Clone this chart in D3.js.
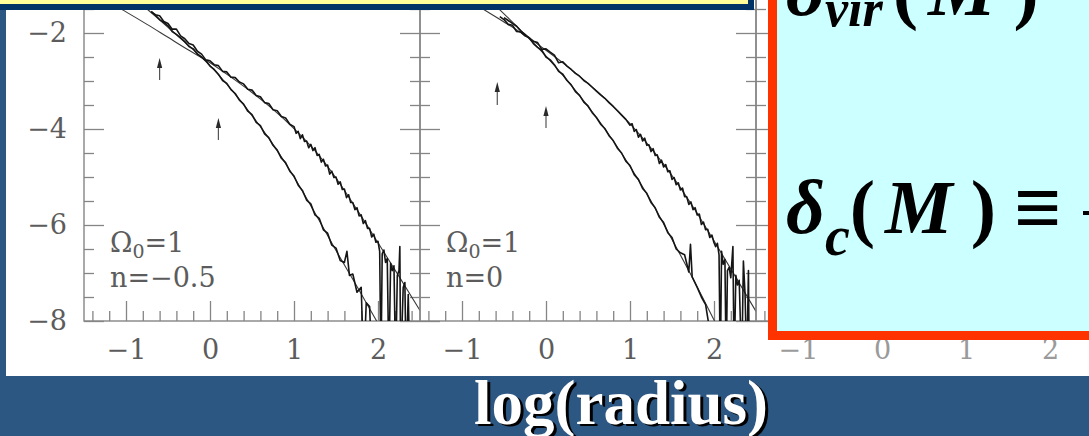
<!DOCTYPE html>
<html>
<head>
<meta charset="utf-8">
<script src="https://cdn.jsdelivr.net/npm/d3@7"></script>
<style>
  html, body { margin: 0; padding: 0; background: #2D5783; }
  svg { display: block; }
</style>
</head>
<body>
<svg id="slide" width="1089" height="436"></svg>
<script>
// ---------- axis ticks ----------
const xMajorTicks = [-1, 0, 1, 2];
const xMinorTicks = [-1.4, -1.2, -0.8, -0.6, -0.4, -0.2, 0.2, 0.4, 0.6, 0.8, 1.2, 1.4, 1.6, 1.8, 2.2, 2.4];
const yMajorTicks = [-8, -6, -4, -2];
const yMinorTicks = [-7.5, -7, -6.5, -5.5, -5, -4.5, -3.5, -3, -2.5, -1.5];

// ---------- Omega_0 = 1, n = -0.5 ----------
// smooth profile fits [log r, log rho]
const fitShallowN05 = [[-1.5,-1.05],[-1.25,-1.31],[-1.0,-1.56],[-0.75,-1.82],[-0.5,-2.09],[-0.25,-2.36],[0,-2.62],[0.25,-2.92],[0.5,-3.24],[0.75,-3.59],[1.0,-3.99],[1.25,-4.45],[1.5,-5.02],[1.75,-5.68],[2.0,-6.37],[2.25,-7.07],[2.5,-7.78]];
const fitSteepN05 = [[-1.0,-1.12],[-0.75,-1.50],[-0.5,-1.88],[-0.25,-2.27],[0,-2.68],[0.25,-3.17],[0.5,-3.72],[0.75,-4.32],[1.0,-5.00],[1.25,-5.75],[1.5,-6.53],[1.75,-7.28],[2.0,-8.05],[2.25,-8.8]];
// simulated halo profiles (empty bins fall below the axis)
const haloOuterN05 = [[-0.70,-1.56],[-0.65,-1.62],[-0.60,-1.64],[-0.55,-1.76],[-0.50,-1.80],[-0.45,-1.92],[-0.40,-1.92],[-0.35,-2.06],[-0.30,-2.12],[-0.25,-2.22],[-0.20,-2.25],[-0.15,-2.38],[-0.10,-2.44],[-0.05,-2.56],[0.00,-2.58],[0.05,-2.66],[0.10,-2.68],[0.15,-2.80],[0.20,-2.81],[0.25,-2.92],[0.30,-2.93],[0.35,-3.02],[0.40,-3.06],[0.45,-3.17],[0.50,-3.19],[0.55,-3.30],[0.60,-3.33],[0.65,-3.45],[0.70,-3.47],[0.75,-3.60],[0.80,-3.62],[0.85,-3.74],[0.90,-3.77],[0.95,-3.90],[1.000,-3.95],[1.025,-4.09],[1.050,-4.05],[1.075,-4.20],[1.100,-4.12],[1.125,-4.26],[1.150,-4.25],[1.175,-4.39],[1.200,-4.32],[1.225,-4.45],[1.250,-4.39],[1.275,-4.55],[1.300,-4.53],[1.325,-4.69],[1.350,-4.63],[1.375,-4.77],[1.400,-4.75],[1.425,-4.94],[1.450,-4.88],[1.475,-5.01],[1.500,-5.00],[1.525,-5.15],[1.550,-5.10],[1.575,-5.26],[1.600,-5.25],[1.625,-5.43],[1.650,-5.37],[1.675,-5.53],[1.700,-5.53],[1.725,-5.68],[1.750,-5.64],[1.775,-5.81],[1.800,-5.79],[1.825,-5.97],[1.850,-5.91],[1.875,-6.07],[1.900,-6.07],[1.925,-6.25],[1.950,-6.19],[1.975,-6.36],[2.000,-6.34],[2.02,-6.55],[2.035,-9],[2.05,-6.60],[2.07,-6.52],[2.09,-6.78],[2.11,-6.70],[2.13,-9],[2.15,-6.80],[2.17,-6.95],[2.19,-6.85],[2.21,-9],[2.23,-7.05],[2.25,-6.95],[2.26,-6.45],[2.27,-9],[2.30,-7.30],[2.32,-7.20],[2.335,-9],[2.36,-7.45],[2.38,-9]];
const haloInnerN05 = [[-0.70,-1.55],[-0.65,-1.63],[-0.60,-1.72],[-0.55,-1.78],[-0.50,-1.85],[-0.45,-1.97],[-0.40,-2.03],[-0.35,-2.10],[-0.30,-2.18],[-0.25,-2.28],[-0.20,-2.33],[-0.15,-2.44],[-0.10,-2.50],[-0.05,-2.58],[0.00,-2.69],[0.05,-2.76],[0.10,-2.86],[0.15,-2.99],[0.20,-3.05],[0.25,-3.18],[0.30,-3.26],[0.35,-3.40],[0.40,-3.48],[0.45,-3.63],[0.50,-3.70],[0.55,-3.86],[0.60,-3.93],[0.65,-4.10],[0.70,-4.18],[0.75,-4.34],[0.80,-4.44],[0.85,-4.61],[0.90,-4.70],[0.95,-4.88],[1.00,-4.98],[1.05,-5.17],[1.10,-5.28],[1.15,-5.48],[1.20,-5.56],[1.25,-5.79],[1.30,-5.86],[1.35,-6.10],[1.40,-6.17],[1.45,-6.42],[1.50,-6.48],[1.55,-6.74],[1.60,-6.78],[1.63,-6.55],[1.66,-7.05],[1.70,-7.02],[1.75,-7.40],[1.80,-7.30],[1.83,-9],[1.86,-7.62],[1.90,-7.70],[1.93,-9]];
// resolution markers: log r, arrow tip, arrow tail
const markerRN05 = [-0.6, 0.1];
const markerTipN05 = [-2.52, -3.77];
const markerTailN05 = [-2.98, -4.23];

// ---------- Omega_0 = 1, n = 0 ----------
const fitShallowN0 = [[-1.0,-1.22],[-0.75,-1.50],[-0.5,-1.77],[-0.25,-2.05],[0,-2.36],[0.25,-2.69],[0.5,-3.05],[0.75,-3.44],[1.0,-3.89],[1.25,-4.40],[1.5,-4.97],[1.75,-5.62],[2.0,-6.33],[2.25,-7.06],[2.5,-7.80]];
const fitSteepN0 = [[-0.75,-1.18],[-0.5,-1.60],[-0.25,-2.03],[0,-2.48],[0.25,-2.98],[0.5,-3.53],[0.75,-4.12],[1.0,-4.78],[1.25,-5.50],[1.5,-6.30],[1.75,-7.12],[2.0,-7.98],[2.25,-8.85]];
const haloOuterN0 = [[-0.55,-1.66],[-0.50,-1.72],[-0.45,-1.82],[-0.40,-1.84],[-0.35,-1.97],[-0.30,-1.98],[-0.25,-2.06],[-0.20,-2.10],[-0.15,-2.17],[-0.10,-2.20],[-0.05,-2.34],[0.00,-2.33],[0.05,-2.40],[0.10,-2.46],[0.15,-2.62],[0.20,-2.60],[0.25,-2.69],[0.30,-2.76],[0.35,-2.84],[0.40,-2.90],[0.45,-2.99],[0.50,-3.05],[0.55,-3.13],[0.60,-3.21],[0.65,-3.29],[0.70,-3.36],[0.75,-3.45],[0.80,-3.53],[0.85,-3.62],[0.90,-3.71],[0.95,-3.80],[1.000,-3.92],[1.025,-3.89],[1.050,-4.05],[1.075,-4.01],[1.100,-4.17],[1.125,-4.11],[1.150,-4.25],[1.175,-4.19],[1.200,-4.34],[1.225,-4.33],[1.250,-4.47],[1.275,-4.41],[1.300,-4.55],[1.325,-4.54],[1.350,-4.72],[1.375,-4.65],[1.400,-4.79],[1.425,-4.74],[1.450,-4.89],[1.475,-4.87],[1.500,-5.05],[1.525,-5.01],[1.550,-5.16],[1.575,-5.12],[1.600,-5.27],[1.625,-5.23],[1.650,-5.41],[1.675,-5.41],[1.700,-5.57],[1.725,-5.52],[1.750,-5.68],[1.775,-5.64],[1.800,-5.79],[1.825,-5.77],[1.850,-5.99],[1.875,-5.94],[1.900,-6.10],[1.925,-6.09],[1.950,-6.26],[1.975,-6.21],[2.000,-6.37],[2.02,-6.45],[2.04,-6.38],[2.06,-6.62],[2.075,-9],[2.09,-6.55],[2.11,-6.82],[2.13,-6.72],[2.145,-9],[2.16,-6.95],[2.18,-6.88],[2.20,-7.10],[2.225,-6.45],[2.24,-9],[2.26,-7.05],[2.28,-7.25],[2.30,-7.15],[2.33,-9],[2.35,-6.75],[2.37,-7.45],[2.39,-9],[2.41,-6.95],[2.42,-9]];
const haloInnerN0 = [[-0.50,-1.68],[-0.45,-1.74],[-0.40,-1.80],[-0.35,-1.86],[-0.30,-1.96],[-0.25,-2.03],[-0.20,-2.10],[-0.15,-2.22],[-0.10,-2.30],[-0.05,-2.36],[0.00,-2.50],[0.05,-2.56],[0.10,-2.66],[0.15,-2.80],[0.20,-2.86],[0.25,-2.99],[0.30,-3.08],[0.35,-3.22],[0.40,-3.30],[0.45,-3.44],[0.50,-3.52],[0.55,-3.66],[0.60,-3.76],[0.65,-3.90],[0.70,-3.99],[0.75,-4.14],[0.80,-4.24],[0.85,-4.40],[0.90,-4.50],[0.95,-4.67],[1.00,-4.76],[1.05,-4.95],[1.10,-5.05],[1.15,-5.24],[1.20,-5.34],[1.25,-5.53],[1.30,-5.64],[1.35,-5.84],[1.40,-5.95],[1.45,-6.16],[1.50,-6.26],[1.55,-6.50],[1.60,-6.58],[1.65,-6.62],[1.70,-6.98],[1.72,-6.40],[1.74,-7.08],[1.80,-7.30],[1.85,-7.50],[1.90,-7.66],[1.95,-8.2]];
const markerRN0 = [-0.58, 0.0];
const markerTipN0 = [-3.02, -3.52];
const markerTailN0 = [-3.50, -3.98];

// ---------- layout ----------
const W = 1089, H = 436;
const panelWidth = 336;
const xDomain = [-1.5, 2.5];
const y = d3.scaleLinear().domain([-8, -1]).range([321, -15]);
const fmt = d3.format("d");
const FRAME = "#858585";
const SERIF = "'DejaVu Serif', serif";

const svg = d3.select("#slide");
svg.append("rect").attr("width", W).attr("height", H).attr("fill", "#2D5783");
svg.append("rect").attr("x", 6).attr("y", 0).attr("width", W - 6).attr("height", 376).attr("fill", "#ffffff");

const lineGen = (x, curve) => d3.line().x(d => x(d[0])).y(d => y(d[1])).curve(curve);

function drawPanel(left, opt) {
  const x = d3.scaleLinear().domain(xDomain).range([left, left + panelWidth]);
  const g = svg.append("g");
  const clipId = "clip" + left;
  g.append("clipPath").attr("id", clipId).append("rect")
    .attr("x", left).attr("y", y(-1)).attr("width", panelWidth).attr("height", y(-8) - y(-1));

  // frame
  g.append("rect").attr("x", left).attr("y", y(-1)).attr("width", panelWidth).attr("height", y(-8) - y(-1))
    .attr("fill", "none").attr("stroke", FRAME).attr("stroke-width", 1.4);

  const axes = g.append("g");
  axes.append("g").attr("transform", `translate(0,${y(-8)})`)
    .call(d3.axisBottom(x).tickValues(xMajorTicks).tickSizeInner(-20).tickSizeOuter(0).tickPadding(19).tickFormat(fmt));
  axes.append("g").attr("transform", `translate(0,${y(-8)})`)
    .call(d3.axisBottom(x).tickValues(xMinorTicks).tickSizeInner(-10).tickSizeOuter(0).tickFormat(""));
  axes.append("g").attr("transform", `translate(${left},0)`)
    .call(d3.axisLeft(y).tickValues(yMajorTicks).tickSizeInner(-20).tickSizeOuter(0).tickPadding(17).tickFormat(opt.yLabels ? fmt : ""));
  axes.append("g").attr("transform", `translate(${left},0)`)
    .call(d3.axisLeft(y).tickValues(yMinorTicks).tickSizeInner(-10).tickSizeOuter(0).tickFormat(""));
  axes.append("g").attr("transform", `translate(${left + panelWidth},0)`)
    .call(d3.axisRight(y).tickValues(yMajorTicks).tickSizeInner(-20).tickSizeOuter(0).tickFormat(""));
  axes.append("g").attr("transform", `translate(${left + panelWidth},0)`)
    .call(d3.axisRight(y).tickValues(yMinorTicks).tickSizeInner(-10).tickSizeOuter(0).tickFormat(""));
  axes.selectAll(".domain").remove();
  axes.selectAll(".tick line").attr("stroke", FRAME).attr("stroke-width", 1.3);
  axes.selectAll(".tick text").attr("fill", opt.labelColor).attr("font-family", SERIF).attr("font-size", 27);

  if (!opt.fits) return;

  const plot = g.append("g").attr("clip-path", `url(#${clipId})`);
  opt.fits.forEach(f => {
    plot.append("path").datum(f).attr("d", lineGen(x, d3.curveMonotoneX))
      .attr("fill", "none").attr("stroke", "#3a3a3a").attr("stroke-width", 1.1);
  });
  opt.halos.forEach(h => {
    plot.append("path").datum(h).attr("d", lineGen(x, d3.curveLinear))
      .attr("fill", "none").attr("stroke", "#151515").attr("stroke-width", 1.6).attr("stroke-linejoin", "round");
  });

  // resolution arrows
  opt.markerR.forEach((r, i) => {
    const ax = x(r), tip = y(opt.markerTip[i]), tail = y(opt.markerTail[i]);
    plot.append("line").attr("x1", ax).attr("x2", ax).attr("y1", tip + 4).attr("y2", tail)
      .attr("stroke", "#555").attr("stroke-width", 1.2);
    plot.append("path").attr("d", `M${ax},${tip}L${ax - 2.6},${tip + 10}L${ax + 2.6},${tip + 10}Z`)
      .attr("fill", "#2a2a2a");
  });

  // parameter label
  const t1 = g.append("text").attr("x", left + 26).attr("y", 252)
    .attr("font-family", SERIF).attr("font-size", 27).attr("fill", "#5c5c5c");
  t1.append("tspan").text("Ω");
  t1.append("tspan").attr("dy", 6).attr("font-size", 19).text("0");
  t1.append("tspan").attr("dy", -6).text("=1");
  g.append("text").attr("x", left + 26).attr("y", 287)
    .attr("font-family", SERIF).attr("font-size", 27).attr("fill", "#5c5c5c")
    .text(opt.nLabel);
}

drawPanel(84, {
  yLabels: true, labelColor: "#5c5c5c",
  fits: [fitShallowN05, fitSteepN05], halos: [haloOuterN05, haloInnerN05],
  markerR: markerRN05, markerTip: markerTipN05, markerTail: markerTailN05,
  nLabel: "n=−0.5"
});
drawPanel(420, {
  yLabels: false, labelColor: "#5c5c5c",
  fits: [fitShallowN0, fitSteepN0], halos: [haloOuterN0, haloInnerN0],
  markerR: markerRN0, markerTip: markerTipN0, markerTail: markerTailN0,
  nLabel: "n=0"
});
drawPanel(756, { yLabels: false, labelColor: "#9a9a9a" });

// ---------- slide overlays ----------
// title box edge (top left)
svg.append("rect").attr("x", 0).attr("y", -20).attr("width", 754).attr("height", 30).attr("fill", "#003366");
svg.append("rect").attr("x", 0).attr("y", -20).attr("width", 748).attr("height", 24).attr("fill", "#FFFF99");

// definition box (right)
svg.append("rect").attr("x", 768).attr("y", -20).attr("width", 400).attr("height", 360).attr("fill", "#FF3300");
svg.append("rect").attr("x", 777).attr("y", -20).attr("width", 400).attr("height", 351).attr("fill", "#CCFFFF");

const MATH = "'Liberation Serif', 'Times New Roman', serif";
const eq1 = svg.append("text").attr("x", 786).attr("y", 15)
  .attr("font-family", MATH).attr("font-weight", "bold").attr("font-style", "italic")
  .attr("font-size", 76).attr("fill", "#000");
eq1.append("tspan").text("δ");
eq1.append("tspan").attr("dy", 11).attr("font-size", 52).text("vir");
eq1.append("tspan").attr("dy", -11).attr("dx", 10).attr("font-style", "normal").text("(");
eq1.append("tspan").attr("dx", 10).text("M");
eq1.append("tspan").attr("dx", 18).attr("font-style", "normal").text(")");

const eq2 = svg.append("text").attr("x", 786).attr("y", 233)
  .attr("font-family", MATH).attr("font-weight", "bold").attr("font-style", "italic")
  .attr("font-size", 76).attr("fill", "#000");
eq2.append("tspan").text("δ");
eq2.append("tspan").attr("dy", 22).attr("font-size", 56).text("c");
eq2.append("tspan").attr("dy", -22).attr("font-style", "normal").text("(");
eq2.append("tspan").attr("dx", 10).text("M");
eq2.append("tspan").attr("dx", 18).attr("font-style", "normal").text(")");
eq2.append("tspan").attr("dx", 18).attr("dy", 3).attr("font-size", 84).attr("font-style", "normal").text("≡");
svg.append("rect").attr("x", 1083).attr("y", 211).attr("width", 20).attr("height", 4).attr("fill", "#000");

// axis title
const titleAttrs = sel => sel.attr("text-anchor", "middle").attr("font-family", MATH)
  .attr("font-weight", "bold").attr("font-size", 63).text("log(radius)");
svg.append("text").attr("x", 624).attr("y", 426).attr("fill", "#000").call(titleAttrs);
svg.append("text").attr("x", 621).attr("y", 424).attr("fill", "#ffffff").call(titleAttrs);
</script>
</body>
</html>
